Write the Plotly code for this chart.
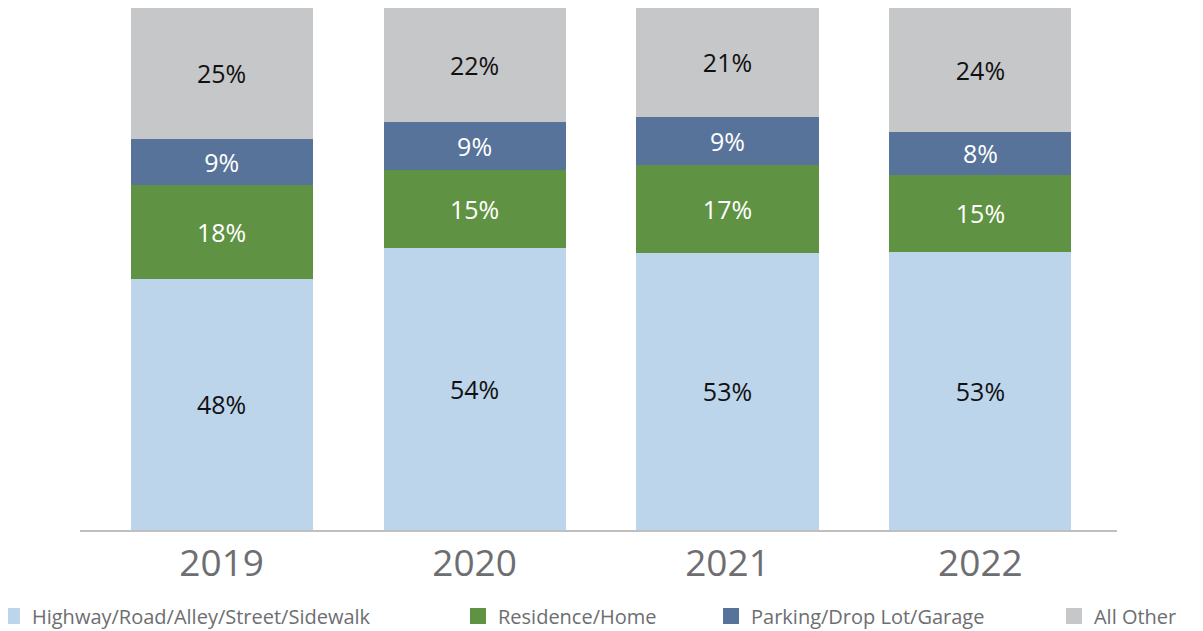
import plotly.graph_objects as go

years = ["2019", "2020", "2021", "2022"]
series_names = ["Highway/Road/Alley/Street/Sidewalk", "Residence/Home",
                "Parking/Drop Lot/Garage", "All Other"]
highway = [48.1, 54.0, 53.1, 53.2]
residence = [17.9, 15.0, 16.9, 14.9]
parking = [9.0, 9.2, 9.2, 8.1]
all_other = [25.0, 21.8, 20.8, 23.8]

values = [highway, residence, parking, all_other]
colors = ["#BDD5EA", "#5F9343", "#577399", "#C6C7C9"]
text_colors = ["#111111", "#FFFFFF", "#FFFFFF", "#111111"]
legend_ids = ["legend", "legend2", "legend3", "legend4"]
legend_x = [-0.0849, 0.3645, 0.6085, 0.9392]

FONT = "Open Sans"

fig = go.Figure()
for name, vals, col, tcol in zip(series_names, values, colors, text_colors):
    fig.add_trace(go.Bar(
        x=years, y=vals, name=name,
        marker=dict(color=col, line=dict(width=0)),
        texttemplate="%{y:.0f}%", textposition="inside",
        insidetextanchor="middle",
        textfont=dict(family=FONT, size=25, color=tcol),
        showlegend=False, hoverinfo="skip",
    ))

# legend entries (square swatches, like the reference)
for name, col, lid in zip(series_names, colors, legend_ids):
    fig.add_trace(go.Scatter(
        x=[None], y=[None], mode="markers", name=name,
        marker=dict(symbol="square", size=16, color=col, line=dict(width=0)),
        legend=lid, hoverinfo="skip", showlegend=True,
    ))

layout_legends = {}
for lid, lx in zip(legend_ids, legend_x):
    layout_legends[lid] = dict(
        x=lx, y=-0.1648, xanchor="left", yanchor="middle",
        orientation="h", bgcolor="rgba(0,0,0,0)",
        font=dict(family=FONT, size=20, color="#6D6E71"),
        itemclick=False, itemdoubleclick=False,
    )

# page body has an 8px margin, so the figure is sized 8px smaller
fig.update_layout(
    barmode="stack",
    bargap=0.28,
    width=1195, height=623,
    margin=dict(l=72, r=86, t=0, b=101, autoexpand=False),
    paper_bgcolor="white", plot_bgcolor="white",
    showlegend=True,
    uniformtext=dict(minsize=25, mode="show"),
    xaxis=dict(
        range=[-0.56, 3.54],
        showline=True, linecolor="#BFBFBF", linewidth=2,
        ticks="", ticklabelstandoff=0,
        tickfont=dict(family=FONT, size=37, color="#6D6E71"),
        showgrid=False, zeroline=False, fixedrange=True,
    ),
    yaxis=dict(range=[0, 100], visible=False, showgrid=False,
               zeroline=False, fixedrange=True),
    **layout_legends,
)

fig.write_html("out.html")
